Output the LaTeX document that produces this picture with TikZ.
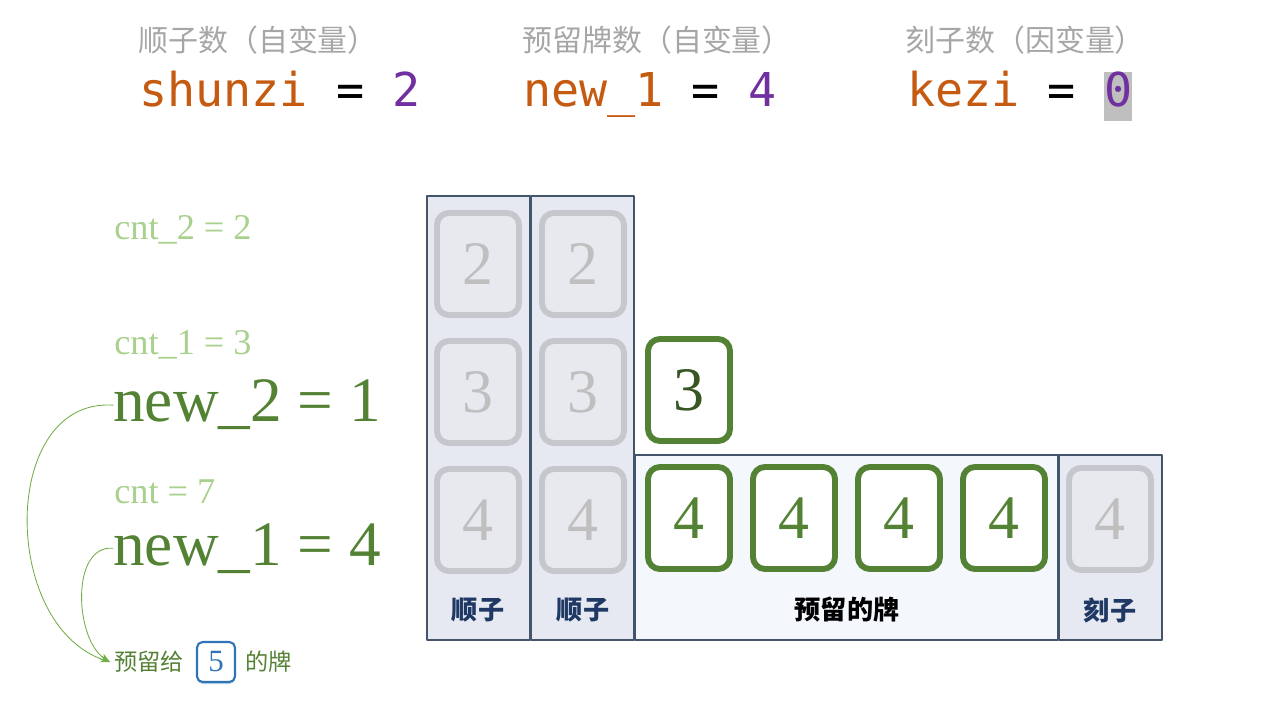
\documentclass[tikz,border=0pt]{standalone}
\usepackage{fontspec}
\setmainfont{Liberation Serif}
\newfontfamily\cjk{Noto Sans CJK SC}
\newfontfamily\mono{DejaVu Sans Mono}
\usetikzlibrary{arrows.meta,shadows}
\definecolor{orng}{HTML}{C55A11}
\definecolor{purp}{HTML}{7030A0}
\definecolor{gtxt}{HTML}{A6A6A6}
\definecolor{hlgray}{HTML}{BFBFBF}
\definecolor{dgreen}{HTML}{548235}
\definecolor{dkgreen}{HTML}{375623}
\definecolor{lgreen}{HTML}{A9D18E}
\definecolor{agreen}{HTML}{70AD47}
\definecolor{navy}{HTML}{1F3864}
\definecolor{frame}{HTML}{44546A}
\definecolor{colfill}{HTML}{E6E9F1}
\definecolor{resfill}{HTML}{F4F7FC}
\definecolor{tileline}{HTML}{C6C7CC}
\definecolor{tilefill}{HTML}{E8E9EE}
\definecolor{blu}{HTML}{2E75B6}
\begin{document}
\begin{tikzpicture}[x=0.025cm, y=-0.025cm, line join=round, line cap=round,
	>={Stealth[length=7pt,width=5pt]},
	toplbl/.style={anchor=west, inner sep=0, text=gtxt, font=\cjk\fontsize{21.3}{24}\selectfont},
	code/.style={anchor=base west, inner sep=0, font=\mono\fontsize{33.2}{34}\selectfont},
	cntlbl/.style={anchor=base west, inner sep=0, text=lgreen, font=\fontsize{25.8}{28}\selectfont},
	newlbl/.style={anchor=base west, inner sep=0, text=dgreen, font=\fontsize{45}{48}\selectfont},
	graytile/.style={draw=tileline, line width=4.2pt, fill=tilefill, rounded corners=0.3cm,
		minimum width=2.05cm, minimum height=2.55cm, inner sep=0, text=hlgray,
		font=\fontsize{44}{44}\selectfont,
		drop shadow={shadow xshift=0pt, shadow yshift=-1.8pt, opacity=0.3, fill=black!70}},
	greentile/.style={graytile, draw=dgreen, fill=white, text=dgreen},
	colbox/.style={draw=frame, line width=0.8pt, fill=colfill},
	boxlbl/.style={text=navy, font=\cjk\bfseries\fontsize{18.6}{20}\selectfont},
	link/.style={->, draw=agreen, line width=0.6pt}]
	\useasboundingbox (0,0) rectangle (1280,720);
	% variables on top
	\node[toplbl] (h1) at (138,40) {顺子数（自变量）};
	\node[toplbl] (h2) at (522,40) {预留牌数（自变量）};
	\node[toplbl] (h3) at (905,40) {刻子数（因变量）};
	\node[code] (v1) at (139,107) {\textcolor{orng}{shunzi} = \textcolor{purp}{2}};
	\node[code] (v2) at (523,107) {\textcolor{orng}{new\_1} = \textcolor{purp}{4}};
	\node[code] (v3) at (907,107) {\textcolor{orng}{kezi} = {\fboxsep=0pt\colorbox{hlgray}{\strut\textcolor{purp}{0}}}};
	% boxes
	\draw[colbox] (427,196) rectangle (530,640);
	\draw[colbox] (531,196) rectangle (634,640);
	\draw[colbox, fill=resfill] (635,455) rectangle (1058,640);
	\draw[colbox] (1059,455) rectangle (1162,640);
	% tiles
	\foreach \c/\x in {a/478,b/583}
	\foreach \n/\y in {2/264,3/392,4/520}
	\node[graytile] (s\c\n) at (\x,\y) {\n};
	\node[greentile, text=dkgreen] (r0) at (689,390) {3};
	\foreach \i/\x in {1/689,2/794,3/899,4/1004}
	\node[greentile] (r\i) at (\x,518) {4};
	\node[graytile] (k4) at (1110,519) {4};
	\node[boxlbl] (la) at (478,610) {顺子};
	\node[boxlbl] (lb) at (583,610) {顺子};
	\node[boxlbl, text=black] (lr) at (847,610) {预留的牌};
	\node[boxlbl] (lk) at (1110,610) {刻子};
	% counters
	\node[cntlbl] (c2) at (114,240) {cnt\_2 = 2};
	\node[cntlbl] (c1) at (114,355) {cnt\_1 = 3};
	\node[newlbl] (n2) at (113,422) {new\_2 = 1};
	\node[cntlbl] (c0) at (114,503) {cnt = 7};
	\node[newlbl] (n1) at (113,565) {new\_1 = 4};
	% bottom line
	\node[anchor=west, inner sep=3pt, text=dgreen, font=\cjk\fontsize{16.5}{18}\selectfont] (give) at (110,662) {预留给};
	\node[draw=blu, line width=1.5pt, rounded corners=4pt, fill=white, text=blu,
		minimum width=0.95cm, minimum height=1.0cm, inner sep=0, font=\fontsize{22}{22}\selectfont,
		drop shadow={shadow xshift=0pt, shadow yshift=-1.5pt, opacity=0.3, fill=blu}] (five) at (216,662) {5};
	\node[anchor=west, inner sep=0, text=dgreen, font=\cjk\fontsize{16.5}{18}\selectfont] (pai) at (245,662) {的牌};
	\draw[link] (n2.west) .. controls (0,398) and (0,625) .. (give.west);
	\draw[link] (n1.west) .. controls (70,545) and (75,640) .. (give.west);
\end{tikzpicture}
\end{document}
